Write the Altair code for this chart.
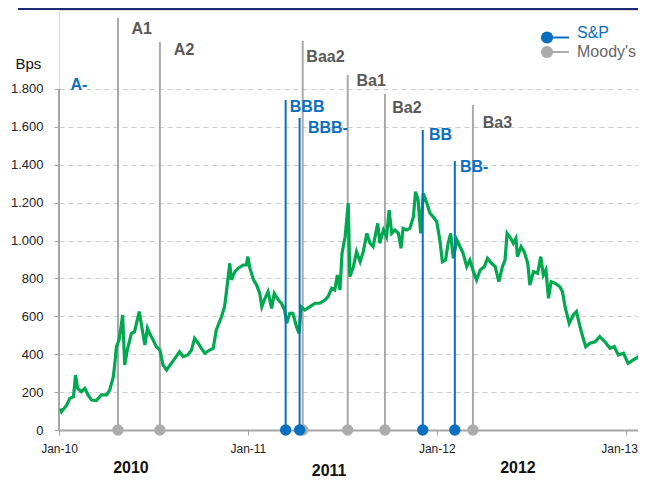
import altair as alt
import pandas as pd

# ---------------- data ----------------
dates = [
 "2010-01-04","2010-01-06","2010-01-16","2010-01-22","2010-01-29","2010-02-02","2010-02-06","2010-02-13",
 "2010-02-20","2010-02-26","2010-03-05","2010-03-14","2010-03-24","2010-04-03","2010-04-09","2010-04-16",
 "2010-04-19","2010-04-22","2010-04-27","2010-04-30","2010-05-04","2010-05-08","2010-05-13","2010-05-21",
 "2010-05-27","2010-06-05","2010-06-11","2010-06-16","2010-06-21","2010-06-25","2010-07-02","2010-07-08",
 "2010-07-15","2010-07-21","2010-07-28","2010-08-06","2010-08-13","2010-08-22","2010-08-29","2010-09-07",
 "2010-09-14","2010-09-20","2010-09-27","2010-10-03","2010-10-10","2010-10-19","2010-10-26","2010-11-01",
 "2010-11-11","2010-11-17","2010-11-21","2010-11-24","2010-11-27","2010-11-30","2010-12-07","2010-12-13",
 "2010-12-23","2010-12-29","2011-01-01","2011-01-05","2011-01-12","2011-01-18","2011-01-24","2011-01-28",
 "2011-02-03","2011-02-09","2011-02-16","2011-02-21","2011-03-01","2011-03-07","2011-03-13","2011-03-17",
 "2011-03-23","2011-03-29","2011-04-05","2011-04-10","2011-04-14","2011-04-21","2011-05-01","2011-05-11",
 "2011-05-20","2011-05-30","2011-06-05","2011-06-12","2011-06-18","2011-06-23","2011-06-28","2011-07-02",
 "2011-07-08","2011-07-14","2011-07-17","2011-07-24","2011-07-30","2011-08-06","2011-08-12","2011-08-19",
 "2011-08-25","2011-08-31","2011-09-09","2011-09-13","2011-09-20","2011-09-26","2011-10-01","2011-10-06",
 "2011-10-12","2011-10-19","2011-10-24","2011-10-28","2011-11-04","2011-11-10","2011-11-17","2011-11-21",
 "2011-11-26","2011-12-01","2011-12-06","2011-12-13","2011-12-19","2011-12-25","2012-01-01","2012-01-07",
 "2012-01-12","2012-01-18","2012-01-23","2012-01-28","2012-02-02","2012-02-09","2012-02-15","2012-02-21",
 "2012-02-28","2012-03-05","2012-03-12","2012-03-18","2012-03-25","2012-04-02","2012-04-08","2012-04-16",
 "2012-04-23","2012-04-30","2012-05-07","2012-05-12","2012-05-16","2012-05-23","2012-05-28","2012-06-02",
 "2012-06-05","2012-06-12","2012-06-18","2012-06-25","2012-06-29","2012-07-06","2012-07-14","2012-07-20",
 "2012-07-25","2012-07-30","2012-08-04","2012-08-09","2012-08-17","2012-08-26","2012-08-31","2012-09-05",
 "2012-09-13","2012-09-21","2012-09-27","2012-10-04","2012-10-10","2012-10-15","2012-10-23","2012-11-02",
 "2012-11-11","2012-11-21","2012-12-01","2012-12-09","2012-12-17","2012-12-27","2013-01-05","2013-01-15",
 "2013-01-25","2013-02-04",
]
spread = [
 114, 97, 132, 167, 176, 290, 220, 202,
 220, 185, 158, 155, 185, 185, 211, 281,
 352, 440, 475, 528, 607, 343, 422, 510,
 519, 625, 528, 449, 537, 510, 475, 440,
 422, 343, 317, 352, 378, 413, 387, 396,
 422, 484, 458, 431, 405, 422, 431, 528,
 598, 651, 739, 809, 880, 792, 836, 853,
 871, 871, 915, 853, 792, 765, 721, 651,
 695, 730, 642, 721, 686, 669, 633, 563,
 616, 616, 545, 510, 651, 633, 651, 669,
 669, 686, 704, 748, 739, 818, 739, 933,
 1020, 1197, 809, 862, 941, 888, 941, 1038,
 986, 968, 1091, 986, 1056, 1020, 1161, 1038,
 1056, 1038, 959, 1064, 1056, 1064, 1126, 1258,
 1214, 1038, 1249, 1197, 1144, 1126, 1100, 1003,
 888, 897, 986, 1038, 906, 1003, 968, 933,
 862, 897, 836, 792, 845, 862, 906, 880,
 862, 783, 862, 897, 1038, 1012, 986, 1012,
 915, 968, 941, 880, 765, 836, 827, 915,
 818, 845, 695, 783, 774, 756, 730, 651,
 563, 607, 625, 545, 484, 440, 458, 466,
 493, 466, 431, 440, 396, 405, 352, 370,
 387, 425,
]

# Moody's rating actions
moody_dates = ["2010-04-25", "2010-07-15", "2011-04-17", "2011-07-13", "2011-09-23", "2012-03-11"]
moody_labels = ["A1", "A2", "Baa2", "Ba1", "Ba2", "Ba3"]
moody_tops = [2175, 2048, 2054, 1874, 1774, 1716]
moody_label_dates = ["2010-05-21", "2010-08-11", "2011-04-24", "2011-07-30", "2011-10-07", "2012-03-30"]
moody_label_vals = [2115, 2006, 1969, 1844, 1700, 1622]

# S&P rating actions
sp_dates = ["2011-03-15", "2011-04-11", "2011-12-05", "2012-02-05"]
sp_tops = [1742, 1647, 1584, 1420]
sp_labels = ["A-", "BBB", "BBB-", "BB", "BB-"]
sp_label_dates = ["2010-01-23", "2011-03-23", "2011-04-27", "2011-12-17", "2012-02-15"]
sp_label_vals = [1821, 1705, 1594, 1557, 1390]

year_labels = ["2010", "2011", "2012"]
year_dates = ["2010-05-20", "2011-06-07", "2012-06-06"]

y_ticks = [0, 200, 400, 600, 800, 1000, 1200, 1400, 1600, 1800]
y_axis_extent = [0, 1800]
x_tick_years = [2010, 2011, 2012, 2013]

# ---------------- styling ----------------
GREEN = "#00a84f"
BLUE = "#0b6fbf"
GRAY_RULE = "#a9a9a9"
GRAY_DOT = "#acacac"
GRAY_TEXT = "#595959"
FONT = "Liberation Sans, Arial"

W, H = 579, 420

df_line = pd.DataFrame({"date": dates, "v": spread})
df_m = pd.DataFrame({"date": moody_dates, "v": moody_tops, "base": [0] * len(moody_dates)})
df_m_lab = pd.DataFrame({"date": moody_label_dates, "v": moody_label_vals, "t": moody_labels})
df_s = pd.DataFrame({"date": sp_dates, "v": sp_tops, "base": [0] * len(sp_dates)})
df_s_lab = pd.DataFrame({"date": sp_label_dates, "v": sp_label_vals, "t": sp_labels})
df_years = pd.DataFrame({"date": year_dates, "t": year_labels})
df_yline = pd.DataFrame({"base": [y_axis_extent[0]], "v": [y_axis_extent[1]]})

xscale = alt.Scale(
    type="utc",
    domain=[alt.DateTime(year=2010, month=1, date=1, utc=True),
            alt.DateTime(year=2013, month=1, date=24, utc=True)],
)
yscale = alt.Scale(domain=[0, 2217], nice=False, zero=True)

xaxis = alt.Axis(
    values=[alt.DateTime(year=y, month=1, date=1, utc=True) for y in x_tick_years],
    labelExpr="utcFormat(datum.value, '%b-%y')",
    grid=False, domain=True, domainColor="#a6a6a6", domainWidth=2,
    ticks=True, tickColor="#a6a6a6", tickSize=5, tickWidth=1,
    labelFont=FONT, labelFontSize=12, labelColor="#222222", labelPadding=8,
    labelOffset={"condition": {"test": "utcyear(datum.value) >= 2013", "value": -7}, "value": 0},
    labelFlush=False, labelOverlap=False, title=None,
)
yaxis = alt.Axis(
    values=y_ticks,
    labelExpr="replace(format(datum.value, ','), ',', '.')",
    grid=True, gridDash=[5, 4], gridColor="#cccccc", gridWidth=1,
    domain=False, ticks=True, tickColor="#a6a6a6", tickSize=5, tickWidth=1,
    labelFont=FONT, labelFontSize=13, labelColor="#222222", labelPadding=11,
    title="Bps", titleAngle=0, titleX=-44, titleY=53, titleAlign="left",
    titleBaseline="middle", titleFont=FONT, titleFontSize=15,
    titleFontWeight="normal", titleColor="#111111",
)

X = alt.X("date:T", scale=xscale, axis=xaxis)
Y = alt.Y("v:Q", scale=yscale, axis=yaxis)
YB = alt.Y("base:Q", scale=yscale, axis=yaxis)

# y axis line from 0 to 1800
yline = alt.Chart(df_yline).mark_rule(color="#a6a6a6", strokeWidth=2).encode(
    x=alt.value(0), y=YB, y2="v:Q")

moody_rules = alt.Chart(df_m).mark_rule(color=GRAY_RULE, strokeWidth=2).encode(x=X, y=YB, y2="v:Q")
line = alt.Chart(df_line).mark_line(color=GREEN, strokeWidth=3.2, clip=True).encode(x=X, y=Y)
sp_rules = alt.Chart(df_s).mark_rule(color=BLUE, strokeWidth=2).encode(x=X, y=YB, y2="v:Q")

moody_dots = alt.Chart(df_m).mark_point(filled=True, size=130, color=GRAY_DOT, opacity=1).encode(x=X, y=YB)
sp_dots = alt.Chart(df_s).mark_point(filled=True, size=130, color=BLUE, opacity=1).encode(x=X, y=YB)

moody_text = alt.Chart(df_m_lab).mark_text(
    align="left", baseline="middle", font=FONT, fontSize=16, fontWeight="bold", color=GRAY_TEXT
).encode(x=X, y=Y, text="t:N")
sp_text = alt.Chart(df_s_lab).mark_text(
    align="left", baseline="middle", font=FONT, fontSize=16, fontWeight="bold", color=BLUE
).encode(x=X, y=Y, text="t:N")

years_a = alt.Chart(df_years[df_years.t != "2011"]).mark_text(
    align="center", baseline="middle", font=FONT, fontSize=16, fontWeight="bold", color="#111111"
).encode(x=X, y=alt.value(458), text="t:N")
years_b = alt.Chart(df_years[df_years.t == "2011"]).mark_text(
    align="center", baseline="middle", font=FONT, fontSize=16, fontWeight="bold", color="#111111"
).encode(x=X, y=alt.value(461), text="t:N")

# top navy line
top_line = alt.Chart(pd.DataFrame({"k": [0]})).mark_rule(color="#1c2a73", strokeWidth=2).encode(
    x=alt.value(-41), x2=alt.value(W), y=alt.value(-1))

# legend
def legend_item(label, color, tcolor, ydot, ytext):
    df = pd.DataFrame({"t": [label]})
    r = alt.Chart(df).mark_rule(color=color, strokeWidth=2).encode(
        x=alt.value(488), x2=alt.value(510), y=alt.value(ydot))
    p = alt.Chart(df).mark_point(filled=True, size=150, color=color, opacity=1).encode(
        x=alt.value(488), y=alt.value(ydot))
    t = alt.Chart(df).mark_text(align="left", baseline="middle", font=FONT, fontSize=16,
                                color=tcolor).encode(x=alt.value(518), y=alt.value(ytext), text="t:N")
    return [r, p, t]

legend_layers = legend_item("S&P", BLUE, BLUE, 27.5, 23) + legend_item("Moody's", GRAY_DOT, "#666666", 42, 42)

chart = alt.layer(
    moody_rules, yline, line, sp_rules, moody_dots, sp_dots, moody_text, sp_text,
    years_a, years_b, top_line, *legend_layers
).properties(
    width=W, height=H,
    autosize=alt.AutoSizeParams(type="none"),
    padding={"left": 51, "top": 2, "right": 0, "bottom": 49},
).configure_view(stroke=None).configure(background="white")

chart.save("out.html", embed_options={"renderer": "svg", "actions": False})
